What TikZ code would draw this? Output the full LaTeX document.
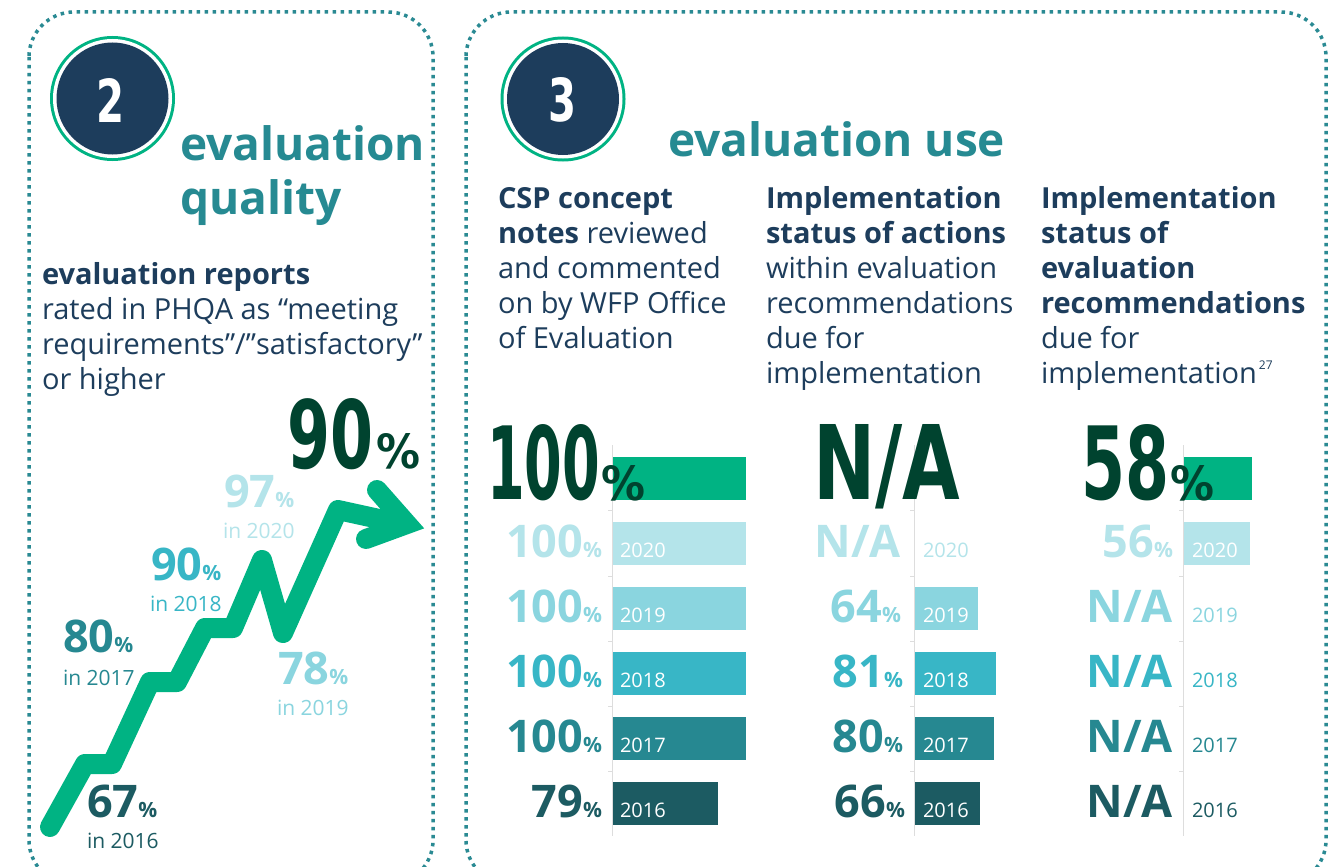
\documentclass[tikz,border=0pt]{standalone}
\usepackage{fontspec}
\usepackage{graphicx}
\setmainfont{Open Sans}
\newfontfamily\bigf{DejaVu Sans}
\definecolor{navy}{HTML}{1D3D5C}
\definecolor{cTeal}{HTML}{268A92}
\definecolor{cBorder}{HTML}{2A8A93}
\definecolor{cGreen}{HTML}{00B383}
\definecolor{cDark}{HTML}{00432F}
\definecolor{cA}{HTML}{B4E4EA}
\definecolor{cB}{HTML}{8AD5DF}
\definecolor{cC}{HTML}{38B6C6}
\definecolor{cD}{HTML}{268891}
\definecolor{cE}{HTML}{1C5B62}
\definecolor{axisgrey}{HTML}{DDDDDD}
\newcommand{\bigtxt}[3]{\resizebox{#1}{#2}{\bigf\bfseries #3}}
\newcommand{\pc}{{\fontsize{21}{21}\selectfont\%}}
\newcommand{\myline}[1]{\hbox{#1}}
\tikzset{
  txt/.style={anchor=base west, inner sep=0pt, outer sep=0pt},
  rtxt/.style={anchor=base east, inner sep=0pt, outer sep=0pt},
  para/.style={anchor=base west, inner sep=0pt, outer sep=0pt, text=navy, font=\fontsize{29}{35}\selectfont},
  title/.style={txt, text=cTeal, font=\fontsize{46}{53}\selectfont\bfseries},
  border/.style={draw=cBorder, line width=3.5pt, dash pattern=on 3.5pt off 4.5pt, rounded corners=45pt},
  num/.style={font=\fontsize{45}{45}\selectfont\bfseries},
  yr/.style={txt, font=\fontsize{20}{20}\selectfont},
  axis/.style={draw=axisgrey, line width=1pt},
  zig/.style={draw=cGreen, line width=20pt, line join=round, line cap=round},
}
\begin{document}
\begin{tikzpicture}[x=1pt,y=-1pt]
\useasboundingbox[fill=white] (0,0) rectangle (1342,867);
% borders
\draw[border] (29,12) rectangle (433,885);
\draw[border] (466,12) rectangle (1326,885);
% circles
\fill[cGreen] (112.5,98.5) circle (62.5);
\fill[white] (112.5,98.5) circle (59.5);
\fill[navy] (112.5,98.5) circle (56);
\node[inner sep=0pt, text=white] (n2) at (111,100) {\bigtxt{28pt}{44pt}{2}};
\fill[cGreen] (563,99) circle (62.5);
\fill[white] (563,99) circle (59.5);
\fill[navy] (563,99) circle (56);
\node[inner sep=0pt, text=white] (n3) at (562,100) {\bigtxt{28pt}{44pt}{3}};
% titles
\node[title] (t2a) at (180,160) {evaluation};
\node[title] (t2b) at (180,214) {quality};
\node[title] (t3) at (668,156) {evaluation use};
% left paragraph
\node[para] (lp) at (42,284) {\vtop{\myline{\textbf{evaluation reports}}\myline{rated in PHQA as “meeting}\myline{requirements”/”satisfactory”}\myline{or higher}}};
% column paragraphs
\node[para] (c1) at (498,208) {\vtop{\myline{\textbf{CSP concept}}\myline{\textbf{notes} reviewed}\myline{and commented}\myline{on by WFP Office}\myline{of Evaluation}}};
\node[para] (c2) at (766,208) {\vtop{\myline{\textbf{Implementation}}\myline{\textbf{status of actions}}\myline{within evaluation}\myline{recommendations}\myline{due for}\myline{implementation}}};
\node[para] (c3) at (1041,208) {\vtop{\myline{\textbf{Implementation}}\myline{\textbf{status of}}\myline{\textbf{evaluation}}\myline{\textbf{recommendations}}\myline{due for}\myline{implementation\raisebox{14pt}{\fontsize{12}{12}\selectfont\,27}}}};
% green zigzag arrow
\coordinate (z0) at (50,827);
\coordinate (z1) at (85,764);
\coordinate (z2) at (112,764);
\coordinate (z3) at (150,682);
\coordinate (z4) at (177,682);
\coordinate (z5) at (205,628);
\coordinate (z6) at (233,628);
\coordinate (z7) at (262,560);
\coordinate (z8) at (283,633);
\coordinate (z9) at (338,510);
\coordinate (z10) at (402,524);
\coordinate (h1) at (377,490);
\coordinate (h2) at (407,524);
\coordinate (h3) at (366,539);
\draw[zig] (z0) -- (z1) -- (z2) -- (z3) -- (z4) -- (z5) -- (z6) -- (z7) -- (z8) -- (z9) -- (z10);
\draw[zig, line join=miter] (h1) -- (h2) -- (h3);
% left labels
\node[txt, num, text=cE] (p16) at (87,817) {67\pc};
\node[yr, text=cE, font=\fontsize{21}{21}\selectfont] (y16) at (87,848) {in 2016};
\node[txt, num, text=cD] (p17) at (63,652) {80\pc};
\node[yr, text=cD, font=\fontsize{21}{21}\selectfont] (y17) at (63,685) {in 2017};
\node[txt, num, text=cC] (p18) at (151,580) {90\pc};
\node[yr, text=cC, font=\fontsize{21}{21}\selectfont] (y18) at (150,611) {in 2018};
\node[txt, num, text=cA] (p20) at (224,507) {97\pc};
\node[yr, text=cA, font=\fontsize{21}{21}\selectfont] (y20) at (223,538) {in 2020};
\node[txt, num, text=cB] (p19) at (278,684) {78\pc};
\node[yr, text=cB, font=\fontsize{21}{21}\selectfont] (y19) at (277,715) {in 2019};
\node[txt, text=cDark] (big90) at (287,468) {\bigtxt{86pt}{70pt}{90}};
\node[txt, text=cDark] (big90p) at (376,468) {\bigtxt{44pt}{35pt}{\%}};
% axes
\draw[axis] (612,445) -- (612,836);
\draw[axis] (914,445) -- (914,836);
\draw[axis] (1183,445) -- (1183,836);
\foreach \t in {510,576,641,706,771}{
  \draw[axis] (608,\t) -- (612,\t);
  \draw[axis] (910,\t) -- (914,\t);
  \draw[axis] (1179,\t) -- (1183,\t);
}
% column 1 bars
\fill[cGreen] (613,457) rectangle (746,500);
\fill[cA] (613,522) rectangle (746,565);
\fill[cB] (613,587) rectangle (746,630);
\fill[cC] (613,652) rectangle (746,695);
\fill[cD] (613,717) rectangle (746,760);
\fill[cE] (613,782) rectangle (718,825);
\node[yr, text=white] (a20) at (620,557) {2020};
\node[yr, text=white] (a19) at (620,622) {2019};
\node[yr, text=white] (a18) at (620,687) {2018};
\node[yr, text=white] (a17) at (620,752) {2017};
\node[yr, text=white] (a16) at (620,817) {2016};
\node[txt, text=cDark] (b100) at (487,499) {\bigtxt{113pt}{75pt}{100}};
\node[txt, text=cDark] (b100p) at (601,500) {\bigtxt{44pt}{35pt}{\%}};
\node[rtxt, num, text=cA] (v20) at (602,557) {100\pc};
\node[rtxt, num, text=cB] (v19) at (602,622) {100\pc};
\node[rtxt, num, text=cC] (v18) at (602,687) {100\pc};
\node[rtxt, num, text=cD] (v17) at (602,752) {100\pc};
\node[rtxt, num, text=cE] (v16) at (602,817) {79\pc};
% column 2 bars
\fill[cB] (915,587) rectangle (978,630);
\fill[cC] (915,652) rectangle (996,695);
\fill[cD] (915,717) rectangle (994,760);
\fill[cE] (915,782) rectangle (980,825);
\node[yr, text=cA] (b20) at (923,557) {2020};
\node[yr, text=white] (b19) at (923,622) {2019};
\node[yr, text=white] (b18) at (923,687) {2018};
\node[yr, text=white] (b17) at (923,752) {2017};
\node[yr, text=white] (b16) at (923,817) {2016};
\node[txt, text=cDark] (bna) at (813,499) {\bigtxt{147pt}{75pt}{N/A}};
\node[rtxt, num, text=cA] (w20) at (901,557) {N/A};
\node[rtxt, num, text=cB] (w19) at (901,622) {64\pc};
\node[rtxt, num, text=cC] (w18) at (903,687) {81\pc};
\node[rtxt, num, text=cD] (w17) at (903,752) {80\pc};
\node[rtxt, num, text=cE] (w16) at (905,817) {66\pc};
% column 3 bars
\fill[cGreen] (1184,457) rectangle (1252,500);
\fill[cA] (1184,522) rectangle (1250,565);
\node[yr, text=white] (c20) at (1192,557) {2020};
\node[yr, text=cB] (c19) at (1192,622) {2019};
\node[yr, text=cC] (c18) at (1192,687) {2018};
\node[yr, text=cD] (c17) at (1192,752) {2017};
\node[yr, text=cE] (c16) at (1192,817) {2016};
\node[txt, text=cDark] (b58) at (1081,499) {\bigtxt{88pt}{75pt}{58}};
\node[txt, text=cDark] (b58p) at (1170,500) {\bigtxt{44pt}{35pt}{\%}};
\node[rtxt, num, text=cA] (x20) at (1173,557) {56\pc};
\node[rtxt, num, text=cB] (x19) at (1173,622) {N/A};
\node[rtxt, num, text=cC] (x18) at (1173,687) {N/A};
\node[rtxt, num, text=cD] (x17) at (1173,752) {N/A};
\node[rtxt, num, text=cE] (x16) at (1173,817) {N/A};
\end{tikzpicture}
\end{document}
